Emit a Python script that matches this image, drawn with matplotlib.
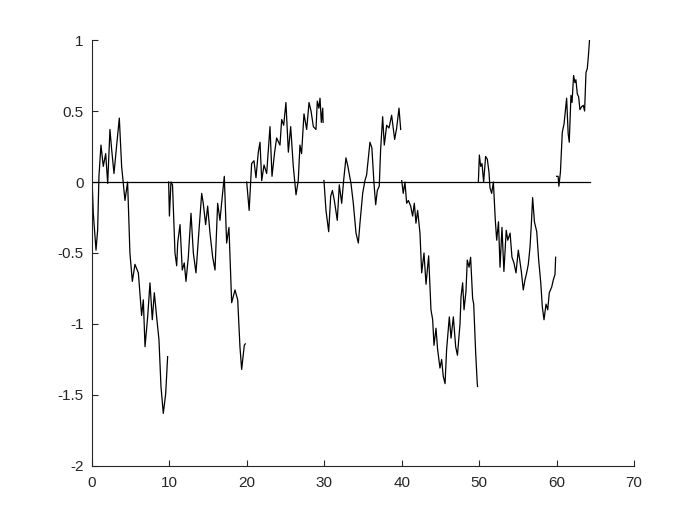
import matplotlib
matplotlib.use("Agg")
import matplotlib.pyplot as plt

plt.rcParams["font.family"] = ["Liberation Sans", "DejaVu Sans"]
plt.rcParams["axes.unicode_minus"] = False

# Brownian path pieces, one per interval of 10 time units
t1 = [0, 0.17, 0.52, 0.73, 0.9, 1.16, 1.46, 1.77, 2.03, 2.32, 2.54, 2.84, 3.19, 3.53,
      3.83, 4.26, 4.6, 4.9, 5.21, 5.55, 5.99, 6.41, 6.63, 6.85, 7.19, 7.49, 7.79, 8.05,
      8.35, 8.65, 8.91, 9.21, 9.52, 9.77]
w1 = [0.03, -0.22, -0.48, -0.34, 0.04, 0.26, 0.11, 0.2, -0.01, 0.37, 0.23, 0.06, 0.26, 0.45,
      0.11, -0.13, 0.0, -0.5, -0.7, -0.58, -0.64, -0.94, -0.83, -1.16, -0.95, -0.71, -0.97, -0.78,
      -0.95, -1.11, -1.44, -1.63, -1.49, -1.23]

t2 = [9.9, 10.0, 10.2, 10.4, 10.72, 10.94, 11.07, 11.37, 11.66, 11.92, 12.14, 12.44, 12.79,
      13.09, 13.43, 13.82, 14.17, 14.37, 14.68, 14.94, 15.24, 15.59, 15.89, 16.23, 16.53,
      16.83, 17.09, 17.39, 17.69, 18.04, 18.47, 18.82, 19.11, 19.33, 19.67, 19.8]
w2 = [0.0, -0.24, 0.0, -0.02, -0.5, -0.59, -0.43, -0.3, -0.62, -0.57, -0.7, -0.53, -0.22,
      -0.5, -0.64, -0.34, -0.08, -0.15, -0.3, -0.17, -0.36, -0.53, -0.62, -0.15, -0.27,
      -0.1, 0.04, -0.43, -0.32, -0.85, -0.76, -0.83, -1.16, -1.32, -1.15, -1.14]

t3 = [19.98, 20.3, 20.62, 20.92, 21.18, 21.48, 21.7, 21.92, 22.22, 22.56, 22.99, 23.25, 23.59,
      23.85, 24.28, 24.5, 24.76, 25.05, 25.36, 25.66, 26.0, 26.35, 26.64, 26.86, 27.07, 27.38,
      27.73, 28.03, 28.29, 28.59, 28.93, 29.1, 29.3, 29.45, 29.62, 29.8, 29.85]
w3 = [0.0, -0.2, 0.13, 0.15, 0.03, 0.21, 0.28, 0.01, 0.12, 0.06, 0.39, 0.04, 0.21,
      0.31, 0.26, 0.44, 0.4, 0.56, 0.21, 0.39, 0.11, -0.09, 0.01, 0.26, 0.2, 0.48,
      0.37, 0.56, 0.5, 0.39, 0.37, 0.57, 0.52, 0.59, 0.42, 0.52, 0.42]

t4 = [29.96, 30.22, 30.57, 30.83, 31.05, 31.3, 31.68, 31.94, 32.25, 32.5, 32.8, 33.05, 33.45,
      33.75, 34.1, 34.4, 34.61, 34.96, 35.25, 35.47, 35.9, 36.15, 36.42, 36.64, 36.85, 37.1,
      37.28, 37.54, 37.75, 38.06, 38.36, 38.7, 39.09, 39.35, 39.65, 39.87]
w4 = [0.01, -0.2, -0.35, -0.1, -0.06, -0.13, -0.27, -0.02, -0.15, 0.01, 0.17, 0.11, -0.01,
      -0.15, -0.36, -0.43, -0.29, -0.08, 0.01, 0.05, 0.28, 0.24, -0.01, -0.16, -0.06, -0.03,
      0.23, 0.46, 0.26, 0.4, 0.38, 0.47, 0.3, 0.38, 0.52, 0.37]

t5 = [40.0, 40.2, 40.42, 40.64, 40.86, 41.16, 41.41, 41.63, 41.84, 42.06, 42.36, 42.58, 42.88,
      43.14, 43.48, 43.78, 44.0, 44.17, 44.43, 44.64, 44.94, 45.16, 45.37, 45.6, 45.8, 46.15,
      46.37, 46.67, 46.97, 47.2, 47.53, 47.66, 47.87, 48.05, 48.3, 48.47, 48.7, 48.9, 49.16,
      49.3, 49.55, 49.76, 49.8]
w5 = [0.01, -0.08, 0.0, -0.15, -0.13, -0.17, -0.24, -0.15, -0.29, -0.2, -0.36, -0.64, -0.5,
      -0.72, -0.52, -0.9, -0.97, -1.15, -1.03, -1.18, -1.31, -1.25, -1.37, -1.42, -1.18, -0.95,
      -1.1, -0.95, -1.16, -1.22, -1.0, -0.81, -0.71, -0.9, -0.77, -0.55, -0.6, -0.53, -0.82,
      -0.86, -1.2, -1.42, -1.44]

t6 = [49.9, 50.03, 50.2, 50.37, 50.58, 50.84, 51.06, 51.27, 51.4, 51.62, 51.84, 52.09, 52.27,
      52.5, 52.7, 52.95, 53.2, 53.5, 53.7, 54.0, 54.24, 54.5, 54.76, 55.06, 55.27, 55.45, 55.7,
      55.92, 56.14, 56.35, 56.57, 56.74, 56.91, 57.14, 57.44, 57.69, 57.96, 58.16, 58.38,
      58.64, 58.86, 59.06, 59.37, 59.58, 59.8, 59.88]
w6 = [0.0, 0.19, 0.11, 0.13, 0.0, 0.18, 0.16, 0.07, -0.04, -0.08, 0.0, -0.27, -0.41,
      -0.28, -0.6, -0.32, -0.63, -0.34, -0.41, -0.36, -0.53, -0.57, -0.64, -0.48, -0.56, -0.63, -0.76,
      -0.69, -0.64, -0.58, -0.46, -0.3, -0.11, -0.28, -0.35, -0.55, -0.71, -0.88, -0.97,
      -0.86, -0.9, -0.78, -0.74, -0.69, -0.65, -0.53]

t7 = [60.0, 60.2, 60.3, 60.5, 60.74, 60.97, 61.3, 61.5, 61.64, 61.86, 62.0, 62.2, 62.37,
      62.5, 62.68, 62.85, 63.02, 63.24, 63.45, 63.62, 63.8, 63.97, 64.1, 64.27]
w7 = [0.04, 0.04, -0.03, 0.07, 0.35, 0.41, 0.59, 0.34, 0.28, 0.61, 0.56, 0.75, 0.7,
      0.72, 0.62, 0.6, 0.51, 0.53, 0.54, 0.5, 0.77, 0.8, 0.88, 1.01]

zero_line_x = [0, 64.3]
zero_line_y = [0, 0]

x_ticks = [0, 10, 20, 30, 40, 50, 60, 70]
y_ticks = [-2, -1.5, -1, -0.5, 0, 0.5, 1]
y_tick_labels = ["-2", "-1.5", "-1", "-0.5", "0", "0.5", "1"]

fig = plt.figure(figsize=(7, 5.25), dpi=100)
ax = fig.add_axes([0.1314, 0.1124, 0.7743, 0.8114])

for t, w in [(t1, w1), (t2, w2), (t3, w3), (t4, w4), (t5, w5), (t6, w6), (t7, w7)]:
    ax.plot(t, w, color="black", linewidth=0.9)
ax.plot(zero_line_x, zero_line_y, color="black", linewidth=0.9)

ax.set_xlim(0, 70)
ax.set_ylim(-2, 1)
ax.set_xticks(x_ticks)
ax.set_xticklabels([str(v) for v in x_ticks])
ax.set_yticks(y_ticks)
ax.set_yticklabels(y_tick_labels)

for spine in ("top", "right"):
    ax.spines[spine].set_visible(False)
for spine in ("left", "bottom"):
    ax.spines[spine].set_color("#262626")
    ax.spines[spine].set_linewidth(0.8)
ax.tick_params(direction="in", length=4, width=0.8, color="#262626",
               labelsize=11, labelcolor="#262626")
ax.tick_params(axis="y", pad=6)
ax.tick_params(axis="x", pad=7)

fig.savefig("out.png", dpi=100)
